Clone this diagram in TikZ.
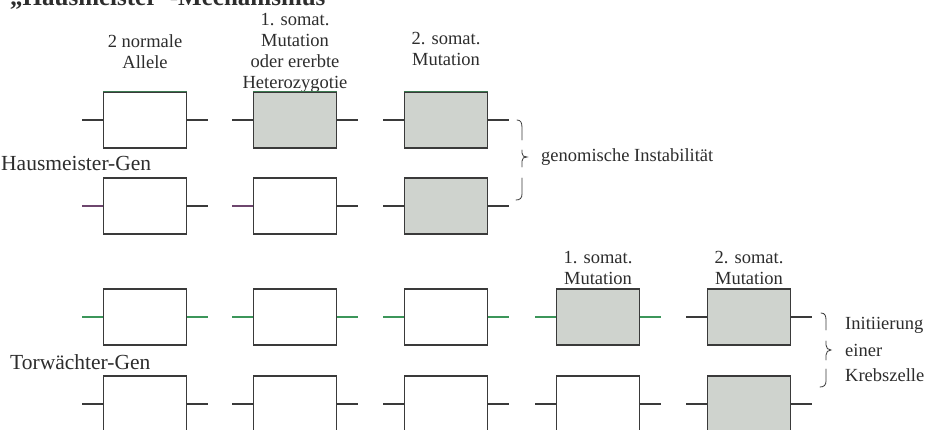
\documentclass[tikz,border=0pt]{standalone}
\usepackage{fontspec}
\setmainfont{Liberation Serif}
\definecolor{linec}{RGB}{58,58,58}
\definecolor{textc}{RGB}{45,45,45}
\definecolor{mutgrey}{RGB}{207,211,206}
\definecolor{printgreen}{RGB}{60,150,90}
\definecolor{printpurple}{RGB}{110,70,110}
\tikzset{
  gene/.style={draw=linec, line width=1.1pt, minimum width=83pt, minimum height=56pt, inner sep=0pt, fill=white},
  mutgene/.style={gene, fill=mutgrey},
  stub/.style={draw=linec, line width=1.1pt},
  lbl/.style={font=\fontsize{18.5}{21}\selectfont, align=center, text=textc, inner sep=0pt},
  rowlbl/.style={font=\fontsize{21.5}{24}\selectfont, text=textc, inner sep=0pt, anchor=west},
  sidelbl/.style={font=\fontsize{18.5}{21}\selectfont, text=textc, inner sep=0pt, anchor=west},
  bracepart/.style={draw=linec, line width=0.8pt, line cap=round},
}
\begin{document}
\begin{tikzpicture}[x=1pt, y=-1pt]
\useasboundingbox (0,0) rectangle (925,430);
\clip (0,0) rectangle (925,430);
\fill[white] (0,0) rectangle (925,430);

% heading, partly cut off by the upper edge
\node[anchor=base west, inner sep=0pt, text=textc, font=\bfseries\fontsize{25}{28}\selectfont] (title) at (10,6) {„Hausmeister“-Mechanismus};

% column headings
\node[lbl] (hl1) at (145,52) {2 normale\\Allele};
\node[lbl] (hl2) at (295,53) {1. somat.\\Mutation\\oder ererbte\\Heterozygotie};
\node[lbl] (hl3) at (446,49) {2. somat.\\Mutation};
\node[lbl] (tl4) at (598,268) {1. somat.\\Mutation};
\node[lbl] (tl5) at (749,268) {2. somat.\\Mutation};

% row labels
\node[rowlbl] (hgen) at (1,163) {Hausmeister-Gen};
\node[rowlbl] (tgen) at (10,362) {Torwächter-Gen};

% Hausmeister gene: two alleles per column
\node[gene]    (ha1) at (145,120) {};
\node[mutgene] (ha2) at (295,120) {};
\node[mutgene] (ha3) at (446,120) {};
\node[gene]    (hb1) at (145,206) {};
\node[gene]    (hb2) at (295,206) {};
\node[mutgene] (hb3) at (446,206) {};

% Torwaechter gene: two alleles per column
\node[gene]    (ta1) at (145,317) {};
\node[gene]    (ta2) at (295,317) {};
\node[gene]    (ta3) at (446,317) {};
\node[mutgene] (ta4) at (598,317) {};
\node[mutgene] (ta5) at (749,317) {};
\node[gene]    (tb1) at (145,404) {};
\node[gene]    (tb2) at (295,404) {};
\node[gene]    (tb3) at (446,404) {};
\node[gene]    (tb4) at (598,404) {};
\node[mutgene] (tb5) at (749,404) {};

% flanking DNA stubs
\foreach \g in {ha3,hb3,ta5,tb1,tb2,tb3,tb4,tb5,ha1,ha2}{
  \draw[stub] (\g.west) -- ++(-21,0);
  \draw[stub] (\g.east) -- ++(21,0);
}
\foreach \g in {hb1,hb2}{
  \draw[stub, draw=printpurple] (\g.west) -- ++(-21,0);
  \draw[stub] (\g.east) -- ++(21,0);
}
\foreach \g in {ta1,ta2,ta3,ta4}{
  \draw[stub, draw=printgreen] (\g.west) -- ++(-21,0);
  \draw[stub, draw=printgreen] (\g.east) -- ++(21,0);
}
% green tint on upper edges
\foreach \g in {ha1,ha2,ha3}{
  \draw[line width=1.1pt, draw=printgreen!70!linec] (\g.north west) -- (\g.north east);
}

% brace: genomische Instabilitaet
\draw[bracepart] (517,120) .. controls (521,120) and (522,123) .. (522,128) -- (522,140);
\draw[bracepart] (522,150) -- (522,153) .. controls (522,156) and (524,157) .. (527,157)
                 .. controls (524,157) and (522,158) .. (522,161) -- (522,167);
\draw[bracepart] (522,178) -- (522,194) .. controls (522,198) and (520,200) .. (516,200);
\node[sidelbl] (instab) at (541,157) {genomische Instabilität};

% brace: Initiierung einer Krebszelle
\draw[bracepart] (821,313) .. controls (825,313) and (826,316) .. (826,320) -- (826,330);
\draw[bracepart] (826,341) -- (826,345) .. controls (826,348) and (828,350) .. (831,350)
                 .. controls (828,350) and (826,352) .. (826,355) -- (826,360);
\draw[bracepart] (826,369) -- (826,381) .. controls (826,385) and (824,387) .. (820,387);
\node[sidelbl] (init) at (845,325) {Initiierung};
\node[sidelbl] (einer) at (845,350) {einer};
\node[sidelbl] (krebs) at (845,375) {Krebszelle};
\end{tikzpicture}
\end{document}
